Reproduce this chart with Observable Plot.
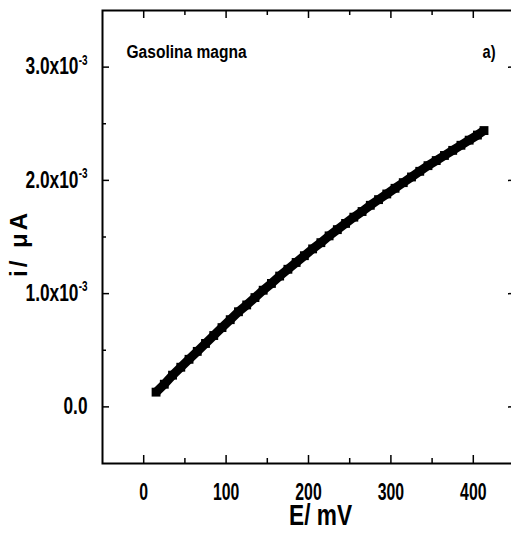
<!DOCTYPE html>
<html>
<head>
<meta charset="utf-8">
<script src="https://cdn.jsdelivr.net/npm/d3@7"></script>
<script src="https://cdn.jsdelivr.net/npm/@observablehq/plot@0.6"></script>
<style>
  html, body { margin: 0; padding: 0; background: #fff; }
</style>
</head>
<body>
<div id="chart"></div>
<script>
// Potential E (mV)
const E = [15, 25, 35, 45, 55, 65, 75, 85, 95, 105, 115, 125, 135, 145, 155, 165, 175, 185, 195, 205,
           215, 225, 235, 245, 255, 265, 275, 285, 295, 305, 315, 325, 335, 345, 355, 365, 375, 385, 395, 405, 413];
// Current i (x10^-3)
const I = [0.13, 0.20, 0.28, 0.35, 0.42, 0.49, 0.56, 0.63, 0.70, 0.77, 0.84, 0.90, 0.965, 1.03, 1.09, 1.155, 1.215, 1.275, 1.335, 1.395,
           1.45, 1.51, 1.565, 1.62, 1.675, 1.725, 1.78, 1.83, 1.88, 1.93, 1.98, 2.03, 2.08, 2.13, 2.175, 2.22, 2.265, 2.31, 2.355, 2.40, 2.44];
const xMajor = [0, 100, 200, 300, 400];
const xMinor = [50, 150, 250, 350];
const yMajor = [0, 1e-3, 2e-3, 3e-3];
const yMinor = [0.5e-3, 1.5e-3, 2.5e-3];
const xDomain = [-50, 450];
const yDomain = [-0.5e-3, 3.5e-3];
const sampleLabel = "Gasolina magna";
const panelLabel = "a)";
const xTitle = "E/ mV";
const yTitle = "i/ \u03BCA";

const data = E.map((e, k) => ({E: e, i: I[k] * 1e-3}));

const width = 511, height = 537;
const mL = 102, mR = -3, mT = 10, mB = 74;
const W = width - mL - mR, H = height - mT - mB;
const sans = "'Liberation Sans', Arial, sans-serif";

const fmtY = d => d === 0 ? "0.0" : (d * 1e3).toFixed(1) + "x10^-3";

const chart = Plot.plot({
  width, height,
  marginLeft: mL, marginRight: mR, marginTop: mT, marginBottom: mB,
  style: {fontFamily: sans, fontWeight: "bold", fontSize: "22px", background: "#fff", color: "#000"},
  x: {domain: xDomain, axis: null},
  y: {domain: yDomain, axis: null},
  marks: [
    Plot.frame({stroke: "#000", strokeWidth: 2}),
    // inward ticks bottom
    Plot.tickX(xMajor, {x: d => d, insetTop: H - 8, stroke: "#000", strokeWidth: 1.5}),
    Plot.tickX(xMinor, {x: d => d, insetTop: H - 5, stroke: "#000", strokeWidth: 1.5}),
    // top
    Plot.tickX(xMajor, {x: d => d, insetBottom: H - 8, stroke: "#000", strokeWidth: 1.5}),
    Plot.tickX(xMinor, {x: d => d, insetBottom: H - 5, stroke: "#000", strokeWidth: 1.5}),
    // left
    Plot.tickY(yMajor, {y: d => d, insetRight: W - 7, stroke: "#000", strokeWidth: 1.5}),
    Plot.tickY(yMinor, {y: d => d, insetRight: W - 4, stroke: "#000", strokeWidth: 1.5}),
    // right
    Plot.tickY(yMajor, {y: d => d, insetLeft: W - 6, stroke: "#000", strokeWidth: 1.5}),
    Plot.tickY(yMinor, {y: d => d, insetLeft: W - 3, stroke: "#000", strokeWidth: 1.5}),
    Plot.axisX(xMajor, {label: null, tickSize: 0, tickPadding: 20, fontSize: 23, fontFamily: sans, fontWeight: "bold"}),
    Plot.axisY(yMajor, {label: null, tickSize: 0, tickPadding: 15, tickFormat: fmtY, fontSize: 23, fontFamily: sans, fontWeight: "bold"}),
    // data
    Plot.line(data, {x: "E", y: "i", stroke: "#000", strokeWidth: 9, strokeLinecap: "butt"}),
    Plot.dot(data, {x: "E", y: "i", symbol: "square", r: 5, fill: "#000", stroke: null}),
    // labels
    Plot.text([sampleLabel], {text: d => d, frameAnchor: "top-left", textAnchor: "start", dx: 24, dy: 35, fontSize: 18, fontFamily: sans, fontWeight: "bold"}),
    Plot.text([panelLabel], {text: d => d, frameAnchor: "top-right", textAnchor: "end", dx: -19, dy: 35, fontSize: 18, fontFamily: sans, fontWeight: "bold"}),
    Plot.text([xTitle], {text: d => d, frameAnchor: "bottom", dx: 12, dy: 61, fontSize: 30, fontFamily: sans, fontWeight: "bold"}),
    Plot.text([yTitle], {text: d => d, frameAnchor: "left", rotate: -90, dx: -83.5, dy: 7, fontSize: 24, fontFamily: sans, fontWeight: "bold"})
  ]
});

document.getElementById("chart").appendChild(chart);

// condensed look (narrow face not installed): scale glyphs horizontally about the anchor
function fitWidth(t, target, pre) {
  const w = t.getBBox().width;
  if (!w) return;
  const f = (target / w).toFixed(3);
  let tr = t.getAttribute("transform");
  if (!tr) {
    const x = +t.getAttribute("x") || 0;
    tr = `translate(${x},0)`;
    t.setAttribute("x", 0);
  }
  t.setAttribute("transform", (pre || "") + tr + ` scale(${f},1)`);
}

// y tick labels: mantissa + raised exponent as a separate small text
chart.querySelectorAll('g[aria-label="y-axis tick label"] text').forEach(t => {
  const s = t.textContent;
  const k = s.indexOf("^");
  if (k < 0) { fitWidth(t, 24); return; }
  const sup = t.cloneNode(false);
  t.textContent = s.slice(0, k);
  sup.textContent = s.slice(k + 1);
  sup.setAttribute("font-size", "14");
  t.parentNode.appendChild(sup);
  fitWidth(t, 53, "translate(-9,0) ");
  fitWidth(sup, 9, "translate(0,-7) ");
});
chart.querySelectorAll('g[aria-label="x-axis tick label"] text').forEach(t => fitWidth(t, 8.8 * t.textContent.length));

const svgRect = chart.getBoundingClientRect();
chart.querySelectorAll('text').forEach(t => {
  const s = t.textContent;
  if (s === sampleLabel) fitWidth(t, 121);
  else if (s === panelLabel) fitWidth(t, 13);
  else if (s === xTitle) fitWidth(t, 63);
  else if (s === yTitle) {
    t.style.letterSpacing = "3px";
    // centre the rotated title on its place beside the axis
    const r = t.getBoundingClientRect();
    const cx = r.left + r.width / 2 - svgRect.left;
    const cy = r.top + r.height / 2 - svgRect.top;
    const tr = t.getAttribute("transform") || "";
    t.setAttribute("transform", `translate(${(18.5 - cx).toFixed(1)},${(243.5 - cy).toFixed(1)}) ` + tr);
  }
});
</script>
</body>
</html>
